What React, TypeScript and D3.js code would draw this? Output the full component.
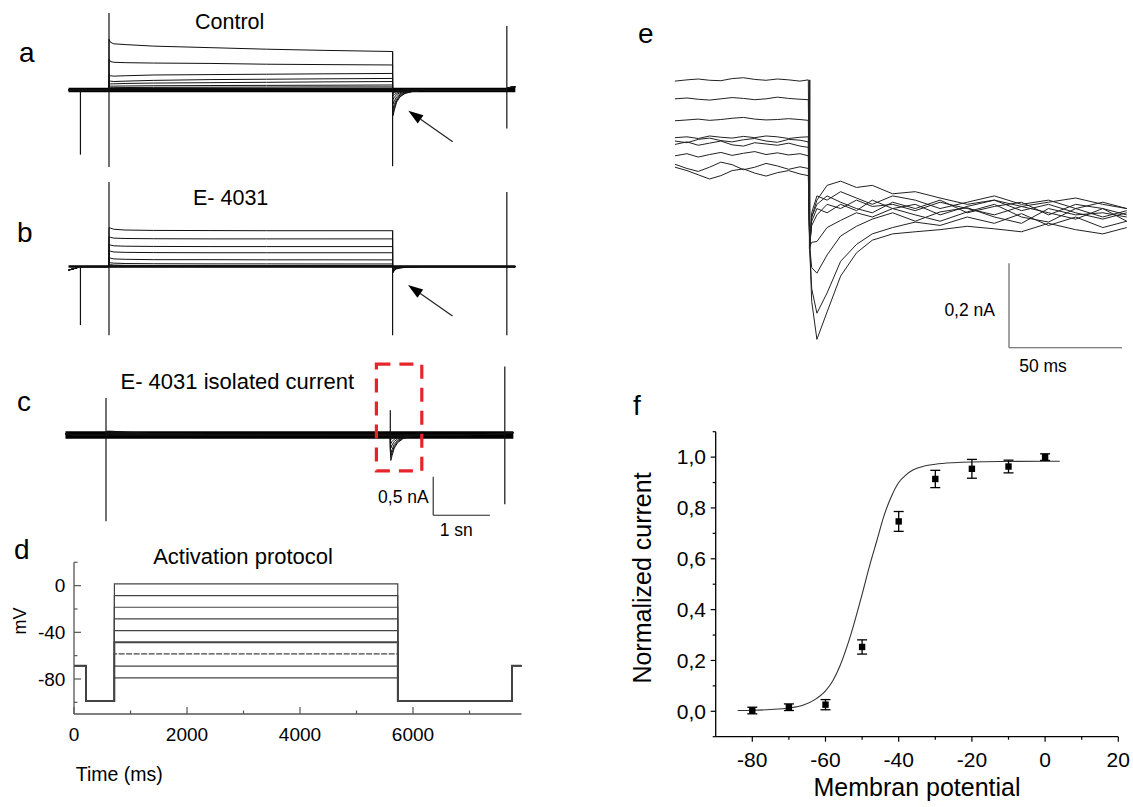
import React from "react";
import * as d3 from "d3";

// ---------------- Panels a–c : current sweeps (nA vs ms) ----------------
const stepPotentials = [0, -10, -20, -30, -40, -50, -60, -70, -80];

const preTimes = [0, 105, 210, 715];
const stepTimes = [715, 740, 800, 1000, 1500, 2500, 3500, 4500, 5730];
const tailTimes = [5730, 5740, 5760, 5800, 5860, 5950, 6080, 6250, 6500];
const postTimes = [7740, 7760, 7900];

const controlPre = [0, 0, 0, 0];
const controlStep = [
  [0.66, 0.62, 0.6, 0.59, 0.57, 0.55, 0.53, 0.515, 0.5],
  [0.4, 0.37, 0.36, 0.355, 0.35, 0.345, 0.335, 0.33, 0.325],
  [0.2, 0.185, 0.18, 0.185, 0.195, 0.2, 0.205, 0.21, 0.215],
  [0.13, 0.115, 0.11, 0.115, 0.125, 0.135, 0.14, 0.145, 0.15],
  [0.09, 0.08, 0.08, 0.085, 0.09, 0.095, 0.1, 0.105, 0.11],
  [0.06, 0.05, 0.05, 0.052, 0.055, 0.058, 0.06, 0.062, 0.065],
  [0.04, 0.03, 0.03, 0.032, 0.034, 0.036, 0.038, 0.04, 0.04],
  [0.02, 0.015, 0.015, 0.016, 0.017, 0.018, 0.019, 0.02, 0.02],
  [0.005, 0, 0, 0, 0, 0, 0, 0, 0],
];
const controlTail = [
  [-0.25, -0.33, -0.26, -0.16, -0.09, -0.045, -0.02, -0.005, 0],
  [-0.22, -0.29, -0.23, -0.14, -0.08, -0.04, -0.018, -0.005, 0],
  [-0.18, -0.24, -0.19, -0.12, -0.065, -0.032, -0.014, -0.004, 0],
  [-0.13, -0.18, -0.14, -0.09, -0.05, -0.025, -0.01, 0, 0],
  [-0.09, -0.12, -0.095, -0.06, -0.035, -0.018, -0.008, 0, 0],
  [-0.05, -0.075, -0.06, -0.04, -0.022, -0.01, 0, 0, 0],
  [-0.03, -0.045, -0.035, -0.022, -0.012, -0.005, 0, 0, 0],
  [-0.02, -0.03, -0.022, -0.014, -0.006, 0, 0, 0, 0],
  [-0.01, -0.02, -0.014, -0.008, -0.003, 0, 0, 0, 0],
];
const controlPost = [0, 0.03, 0.04];
const controlArtifacts = [
  [210, -0.84, 0],
  [715, -1.0, 1.0],
  [5730, -0.99, 0.5],
  [7750, -0.5, 0.83],
];

const e4031Pre = [-0.045, -0.025, 0, 0];
const e4031Step = [
  [0.505, 0.5, 0.485, 0.475, 0.47, 0.468, 0.466, 0.466, 0.466],
  [0.39, 0.38, 0.37, 0.365, 0.362, 0.36, 0.36, 0.36, 0.36],
  [0.29, 0.28, 0.27, 0.265, 0.262, 0.26, 0.26, 0.26, 0.26],
  [0.21, 0.2, 0.19, 0.185, 0.182, 0.18, 0.18, 0.18, 0.18],
  [0.12, 0.11, 0.1, 0.095, 0.09, 0.09, 0.088, 0.088, 0.087],
  [0.06, 0.05, 0.045, 0.04, 0.037, 0.035, 0.035, 0.034, 0.034],
  [0.03, 0.025, 0.02, 0.016, 0.014, 0.013, 0.013, 0.013, 0.013],
  [0.015, 0.01, 0.008, 0.006, 0.005, 0.005, 0.005, 0.005, 0.005],
  [0.005, 0, 0, 0, 0, 0, 0, 0, 0],
];
const e4031Tail = [
  [-0.06, -0.08, -0.05, -0.03, -0.02, -0.01, -0.005, 0, 0],
  [-0.05, -0.07, -0.045, -0.025, -0.015, -0.008, 0, 0, 0],
  [-0.04, -0.06, -0.04, -0.02, -0.01, -0.005, 0, 0, 0],
  [-0.03, -0.05, -0.03, -0.015, -0.008, 0, 0, 0, 0],
  [-0.02, -0.04, -0.025, -0.01, -0.005, 0, 0, 0, 0],
  [-0.02, -0.03, -0.02, -0.01, 0, 0, 0, 0, 0],
  [-0.01, -0.02, -0.01, -0.005, 0, 0, 0, 0, 0],
  [-0.01, -0.01, -0.005, 0, 0, 0, 0, 0, 0],
  [0, -0.01, 0, 0, 0, 0, 0, 0, 0],
];
const e4031Post = [0, 0, 0];
const e4031Artifacts = [
  [210, -0.76, 0],
  [715, -0.89, 1.1],
  [5730, -0.89, 0.47],
  [7750, -0.89, 0.97],
];

const isolatedPre = [0.015, 0.005, 0, 0];
const isolatedStep = [
  [0.04, 0.05, 0.05, 0.04, 0.02, 0.01, 0.01, 0.01, 0.01],
  [0.03, 0.045, 0.045, 0.035, 0.02, 0.01, 0.005, 0.005, 0.005],
  [0.02, 0.035, 0.035, 0.025, 0.012, 0.005, 0, 0, 0],
  [0.015, 0.025, 0.025, 0.015, 0.008, 0, 0, 0, 0],
  [0.01, 0.015, 0.015, 0.01, 0.005, 0, 0, 0, 0],
  [0.005, 0.01, 0.01, 0.005, 0, 0, 0, 0, 0],
  [0, 0.005, 0.005, 0, 0, 0, 0, 0, 0],
  [0, 0, 0, 0, 0, 0, 0, 0, 0],
  [0, 0, 0, 0, 0, 0, 0, 0, 0],
];
const isolatedTail = [
  [-0.2, -0.33, -0.27, -0.17, -0.1, -0.05, -0.02, -0.005, 0],
  [-0.18, -0.28, -0.23, -0.15, -0.085, -0.042, -0.018, -0.004, 0],
  [-0.15, -0.24, -0.19, -0.12, -0.07, -0.035, -0.014, 0, 0],
  [-0.1, -0.17, -0.13, -0.085, -0.05, -0.025, -0.01, 0, 0],
  [-0.06, -0.11, -0.085, -0.055, -0.032, -0.015, -0.005, 0, 0],
  [-0.03, -0.06, -0.045, -0.03, -0.016, -0.008, 0, 0, 0],
  [-0.02, -0.03, -0.022, -0.013, -0.007, 0, 0, 0, 0],
  [-0.01, -0.015, -0.01, -0.005, 0, 0, 0, 0, 0],
  [0, -0.01, -0.005, 0, 0, 0, 0, 0, 0],
];
const isolatedPost = [0.01, 0.025, 0.03];
const isolatedArtifacts = [
  [715, -1.12, 0.48],
  [5730, 0, 0.32],
  [7750, -0.9, 0.89],
];

// ---------------- Panel d : activation protocol ----------------
const protocolTimes = [0, 212, 715, 5730, 7750, 7920];
const holdingPotential = -68.5;
const prepulsePotential = -99;
const protocolLevels = [1.5, -8.5, -18.5, -28.5, -38.5, -48.5, -58.5, -69, -79];
const dMajorX = [0, 2000, 4000, 6000];
const dMinorX = [1000, 3000, 5000, 7000];
const dMajorY = [0, -40, -80];
const dMinorY = [20, -20, -60, -100];

// ---------------- Panel e : tail currents (nA vs ms) ----------------
const eTimesPre = [-59.3, -54, -49, -44, -39, -34, -29, -24, -19, -14, -9, -4, -0.3];
const eTimesPost = [0.3, 1.2, 3.5, 8, 14, 21, 28, 37, 47, 58, 70, 82, 94, 106, 118, 130, 140.6];
const ePre = [
  [0.322, 0.325, 0.327, 0.324, 0.323, 0.328, 0.33, 0.326, 0.324, 0.327, 0.325, 0.322, 0.325],
  [0.28, 0.282, 0.279, 0.277, 0.28, 0.283, 0.281, 0.278, 0.28, 0.284, 0.281, 0.279, 0.278],
  [0.228, 0.23, 0.232, 0.229, 0.231, 0.234, 0.236, 0.232, 0.23, 0.231, 0.233, 0.231, 0.229],
  [0.188, 0.19, 0.186, 0.192, 0.189, 0.187, 0.191, 0.188, 0.192, 0.19, 0.186, 0.189, 0.19],
  [0.18, 0.176, 0.184, 0.187, 0.181, 0.178, 0.183, 0.186, 0.18, 0.177, 0.184, 0.182, 0.178],
  [0.172, 0.178, 0.17, 0.175, 0.18, 0.171, 0.168, 0.176, 0.173, 0.17, 0.175, 0.168, 0.165],
  [0.145, 0.15, 0.142, 0.148, 0.153, 0.146, 0.151, 0.155, 0.148, 0.152, 0.147, 0.15, 0.145],
  [0.125, 0.115, 0.108, 0.118, 0.13, 0.124, 0.112, 0.118, 0.127, 0.121, 0.113, 0.119, 0.115],
  [0.118, 0.11, 0.1, 0.09, 0.098, 0.11, 0.114, 0.104, 0.097, 0.105, 0.11, 0.102, 0.098],
];
const ePost = [
  [-0.07, -0.2, -0.29, -0.225, -0.14, -0.085, -0.055, -0.04, -0.035, -0.03, -0.022, -0.028, -0.035, -0.015, -0.03, -0.04, -0.025],
  [-0.07, -0.17, -0.228, -0.18, -0.105, -0.065, -0.04, -0.025, -0.012, -0.02, 0.0, -0.015, 0.008, -0.02, 0.0, -0.025, -0.01],
  [-0.07, -0.12, -0.133, -0.09, -0.045, -0.022, -0.005, 0.01, -0.01, 0.012, 0.022, 0.0, -0.015, 0.02, 0.005, 0.01, 0.0],
  [-0.07, -0.06, -0.058, -0.025, -0.008, 0.01, 0.0, 0.02, 0.005, -0.01, 0.012, 0.03, 0.0, -0.012, 0.02, 0.0, 0.015],
  [-0.07, -0.02, 0.005, 0.03, 0.02, 0.04, 0.025, 0.03, 0.015, 0.035, 0.02, 0.005, 0.025, 0.01, -0.005, 0.02, 0.005],
  [-0.07, -0.01, 0.02, 0.01, 0.03, 0.015, 0.04, 0.02, 0.03, 0.005, 0.025, 0.04, 0.015, 0.03, 0.01, -0.005, 0.01],
  [-0.07, 0.0, 0.03, 0.05, 0.035, 0.02, 0.01, 0.035, 0.02, 0.04, 0.01, 0.025, 0.035, 0.005, 0.03, 0.02, -0.01],
  [-0.07, 0.01, 0.05, 0.04, 0.06, 0.045, 0.03, 0.05, 0.04, 0.02, 0.035, 0.05, 0.03, 0.04, 0.02, 0.035, 0.02],
  [-0.07, 0.0, 0.04, 0.075, 0.085, 0.07, 0.075, 0.055, 0.06, 0.045, 0.03, 0.04, 0.025, 0.035, 0.045, 0.03, 0.02],
];
const eArtifact = [0.3, -0.075, 0.325];

// ---------------- Panel f : activation curve ----------------
const fVoltage = [-80, -70, -60, -50, -40, -30, -20, -10, 0];
const fCurrent = [0.003, 0.016, 0.026, 0.253, 0.747, 0.914, 0.954, 0.963, 1.0];
const fError = [0.013, 0.013, 0.02, 0.028, 0.039, 0.034, 0.037, 0.025, 0.013];
const fitVoltage = [-84, -80, -75, -70, -66, -63, -60, -58, -56, -54, -52, -50, -48, -46, -44, -42, -40, -38, -36, -33, -30, -25, -20, -10, 0, 4];
const fitCurrent = [0.003, 0.004, 0.007, 0.013, 0.025, 0.045, 0.08, 0.12, 0.18, 0.26, 0.355, 0.46, 0.57, 0.67, 0.77, 0.845, 0.9, 0.93, 0.95, 0.965, 0.972, 0.978, 0.981, 0.983, 0.984, 0.984];
const fMajorX = [-80, -60, -40, -20, 0, 20];
const fMinorX = [-70, -50, -30, -10, 10];
const fMajorY = [0, 0.2, 0.4, 0.6, 0.8, 1.0];
const fMinorY = [-0.1, 0.1, 0.3, 0.5, 0.7, 0.9, 1.1];

const FONT = "'Liberation Sans', Arial, Helvetica, sans-serif";

type Pt = [number, number];

function SweepPanel(props: {
  x: d3.ScaleLinear<number, number>;
  y: d3.ScaleLinear<number, number>;
  pre: number[];
  step: number[][];
  tail: number[][];
  post: number[];
  artifacts: number[][];
  band: number;
}) {
  const { x, y, pre, step, tail, post, artifacts, band } = props;
  const line = d3
    .line<Pt>()
    .x((d) => x(d[0]))
    .y((d) => y(d[1]));
  const paths = stepPotentials.map((_, i) => {
    const pts: Pt[] = [];
    preTimes.forEach((t, k) => pts.push([t, pre[k]]));
    stepTimes.forEach((t, k) => pts.push([t, step[i][k]]));
    tailTimes.forEach((t, k) => pts.push([t, tail[i][k]]));
    postTimes.forEach((t, k) => pts.push([t, post[k]]));
    return line(pts) as string;
  });
  return (
    <g>
      <line x1={x(0)} x2={x(7900)} y1={y(0)} y2={y(0)} stroke="#000" strokeWidth={band} />
      {paths.map((p, i) => (
        <path key={i} d={p} fill="none" stroke="#111" strokeWidth={1} />
      ))}
      {artifacts.map((a, i) => (
        <line key={"a" + i} x1={x(a[0])} x2={x(a[0])} y1={y(a[1])} y2={y(a[2])} stroke="#111" strokeWidth={1.2} />
      ))}
    </g>
  );
}

function Arrow({ x1, y1, x2, y2 }: { x1: number; y1: number; x2: number; y2: number }) {
  const ang = Math.atan2(y2 - y1, x2 - x1);
  const L = 15;
  const W = 5;
  const bx = x2 - L * Math.cos(ang);
  const by = y2 - L * Math.sin(ang);
  const px = -Math.sin(ang) * W;
  const py = Math.cos(ang) * W;
  return (
    <g>
      <line x1={x1} y1={y1} x2={bx} y2={by} stroke="#222" strokeWidth={1.2} />
      <polygon points={`${x2},${y2} ${bx + px},${by + py} ${bx - px},${by - py}`} fill="#000" />
    </g>
  );
}

export default function App() {
  // panel a/b/c scales
  const xAB = d3.scaleLinear().domain([715, 5730]).range([109, 392.6]);
  const xC = d3.scaleLinear().domain([715, 5730]).range([106, 390.3]);
  const yA = d3.scaleLinear().domain([0, 1]).range([90, 13]);
  const yB = d3.scaleLinear().domain([0, 1]).range([266.6, 189.6]);
  const yC = d3.scaleLinear().domain([0, 1]).range([435, 358]);

  // panel d
  const xD = d3.scaleLinear().domain([0, 7920]).range([74, 521.5]);
  const yD = d3.scaleLinear().domain([-110, 20]).range([714, 562.3]);
  const dLine = d3
    .line<Pt>()
    .x((d) => xD(d[0]))
    .y((d) => yD(d[1]));
  const protocolPaths = protocolLevels.map((L) => {
    const [t0, t1, t2, t3, t4, t5] = protocolTimes;
    const pts: Pt[] = [
      [t0, holdingPotential],
      [t1, holdingPotential],
      [t1, prepulsePotential],
      [t2, prepulsePotential],
      [t2, L],
      [t3, L],
      [t3, prepulsePotential],
      [t4, prepulsePotential],
      [t4, holdingPotential],
      [t5, holdingPotential],
    ];
    return dLine(pts) as string;
  });

  // panel e
  const xE = d3.scaleLinear().domain([0, 50]).range([809, 922]);
  const yE = d3.scaleLinear().domain([0, 0.2]).range([217, 132.6]);
  const eLine = d3
    .line<Pt>()
    .x((d) => xE(d[0]))
    .y((d) => yE(d[1]));
  const ePaths = ePre.map((row, i) => {
    const pts: Pt[] = [];
    eTimesPre.forEach((t, k) => pts.push([t, row[k]]));
    eTimesPost.forEach((t, k) => pts.push([t, ePost[i][k]]));
    return eLine(pts) as string;
  });

  // panel f
  const xF = d3.scaleLinear().domain([-90, 20]).range([715.7, 1118.3]);
  const yF = d3.scaleLinear().domain([-0.1, 1.1]).range([736.7, 431.7]);
  const fitLine = d3
    .line<number>()
    .x((_, i) => xF(fitVoltage[i]))
    .y((d) => yF(d))
    .curve(d3.curveMonotoneX);
  const fmt = (v: number) => d3.format(".1f")(v).replace(".", ",");

  const scaleC = { x: 433.2, y: 515.2 };
  const scaleE = { x: 1009, y: 347.7 };

  return (
    <svg
      width={1133}
      height={807}
      style={{ position: "absolute", left: 0, top: 0, background: "#fff" }}
      fontFamily={FONT}
    >
      <rect x={0} y={0} width={1133} height={807} fill="#fff" />

      {/* ---------- a ---------- */}
      <text x={19} y={62} fontSize={28}>a</text>
      <text x={195} y={28.5} fontSize={21.5}>Control</text>
      <SweepPanel x={xAB} y={yA} pre={controlPre} step={controlStep} tail={controlTail} post={controlPost} artifacts={controlArtifacts} band={4.5} />
      <Arrow x1={452.7} y1={141.7} x2={408.3} y2={110.7} />

      {/* ---------- b ---------- */}
      <text x={17} y={242} fontSize={28}>b</text>
      <text x={193} y={205.2} fontSize={21.5}>E- 4031</text>
      <SweepPanel x={xAB} y={yB} pre={e4031Pre} step={e4031Step} tail={e4031Tail} post={e4031Post} artifacts={e4031Artifacts} band={2.5} />
      <Arrow x1={452.5} y1={316} x2={408} y2={285} />

      {/* ---------- c ---------- */}
      <text x={17} y={410.5} fontSize={28}>c</text>
      <text x={120.5} y={388.7} fontSize={22}>E- 4031 isolated current</text>
      <SweepPanel x={xC} y={yC} pre={isolatedPre} step={isolatedStep} tail={isolatedTail} post={isolatedPost} artifacts={isolatedArtifacts} band={7.5} />
      <rect x={376.4} y={364.2} width={45.4} height={106.7} fill="none" stroke="#e8242b" strokeWidth={3.2} strokeDasharray="14 9" />
      <line x1={scaleC.x} x2={scaleC.x} y1={scaleC.y} y2={scaleC.y - (yC(0) - yC(0.5))} stroke="#222" strokeWidth={1.1} />
      <line x1={scaleC.x} x2={scaleC.x + (xC(1715) - xC(715))} y1={scaleC.y} y2={scaleC.y} stroke="#222" strokeWidth={1.1} />
      <text x={428.7} y={502.8} fontSize={17.5} textAnchor="end">0,5 nA</text>
      <text x={456.3} y={536.3} fontSize={17.5} textAnchor="middle">1 sn</text>

      {/* ---------- d ---------- */}
      <text x={14} y={558.5} fontSize={28}>d</text>
      <text x={153.2} y={563.6} fontSize={22}>Activation protocol</text>
      {protocolPaths.map((p, i) => (
        <path key={i} d={p} fill="none" stroke="#444" strokeWidth={i === 5 ? 1.8 : 1.2} strokeDasharray={i === 6 ? "6 1.5" : undefined} />
      ))}
      <line x1={xD(0)} x2={xD(0)} y1={yD(20)} y2={yD(-110)} stroke="#555" strokeWidth={1.3} />
      <line x1={xD(0)} x2={xD(7920)} y1={yD(-110)} y2={yD(-110)} stroke="#555" strokeWidth={1.3} />
      {dMajorY.map((v) => (
        <g key={"dy" + v}>
          <line x1={xD(0)} x2={xD(0) + 7} y1={yD(v)} y2={yD(v)} stroke="#555" strokeWidth={1.2} />
          <text x={65.4} y={yD(v)} dy="0.35em" fontSize={19} textAnchor="end">{v}</text>
        </g>
      ))}
      {dMinorY.map((v) => (
        <line key={"dmy" + v} x1={xD(0)} x2={xD(0) + 3.5} y1={yD(v)} y2={yD(v)} stroke="#555" strokeWidth={1.2} />
      ))}
      {dMajorX.map((v) => (
        <g key={"dx" + v}>
          <line x1={xD(v)} x2={xD(v)} y1={yD(-110)} y2={yD(-110) - 7} stroke="#555" strokeWidth={1.2} />
          <text x={xD(v)} y={741.4} fontSize={19} textAnchor="middle">{v}</text>
        </g>
      ))}
      {dMinorX.map((v) => (
        <line key={"dmx" + v} x1={xD(v)} x2={xD(v)} y1={yD(-110)} y2={yD(-110) - 3.5} stroke="#555" strokeWidth={1.2} />
      ))}
      <text transform="translate(25.5,621) rotate(-90)" fontSize={18} textAnchor="middle">mV</text>
      <text x={75.8} y={781} fontSize={19.5}>Time (ms)</text>

      {/* ---------- e ---------- */}
      <text x={638} y={43.3} fontSize={28}>e</text>
      {ePaths.map((p, i) => (
        <path key={i} d={p} fill="none" stroke="#222" strokeWidth={1} />
      ))}
      <line x1={xE(eArtifact[0])} x2={xE(eArtifact[0])} y1={yE(eArtifact[1])} y2={yE(eArtifact[2])} stroke="#222" strokeWidth={1.6} />
      <line x1={scaleE.x} x2={scaleE.x} y1={scaleE.y} y2={scaleE.y - (yE(0) - yE(0.2))} stroke="#555" strokeWidth={1.1} />
      <line x1={scaleE.x} x2={scaleE.x + (xE(50) - xE(0))} y1={scaleE.y} y2={scaleE.y} stroke="#555" strokeWidth={1.1} />
      <text x={995} y={316} fontSize={17.5} textAnchor="end">0,2 nA</text>
      <text x={1043} y={371.7} fontSize={17.5} textAnchor="middle">50 ms</text>

      {/* ---------- f ---------- */}
      <text x={633} y={415} fontSize={28}>f</text>
      <line x1={xF(-90)} x2={xF(-90)} y1={yF(1.1)} y2={yF(-0.1)} stroke="#000" strokeWidth={1.3} />
      <line x1={xF(-90)} x2={xF(20)} y1={yF(-0.1)} y2={yF(-0.1)} stroke="#000" strokeWidth={1.3} />
      {fMajorY.map((v) => (
        <g key={"fy" + v}>
          <line x1={xF(-90) - 5} x2={xF(-90)} y1={yF(v)} y2={yF(v)} stroke="#000" strokeWidth={1.2} />
          <text x={706} y={yF(v)} dy="0.35em" fontSize={21} textAnchor="end">{fmt(v)}</text>
        </g>
      ))}
      {fMinorY.map((v) => (
        <line key={"fmy" + v} x1={xF(-90) - 3} x2={xF(-90)} y1={yF(v)} y2={yF(v)} stroke="#000" strokeWidth={1.2} />
      ))}
      {fMajorX.map((v) => (
        <g key={"fx" + v}>
          <line x1={xF(v)} x2={xF(v)} y1={yF(-0.1)} y2={yF(-0.1) + 5} stroke="#000" strokeWidth={1.2} />
          <text x={xF(v)} y={767} fontSize={21} textAnchor="middle">{v}</text>
        </g>
      ))}
      {fMinorX.map((v) => (
        <line key={"fmx" + v} x1={xF(v)} x2={xF(v)} y1={yF(-0.1)} y2={yF(-0.1) + 3} stroke="#000" strokeWidth={1.2} />
      ))}
      <path d={fitLine(fitCurrent) as string} fill="none" stroke="#333" strokeWidth={1.1} />
      {fVoltage.map((v, i) => {
        const cx = xF(v);
        const top = yF(fCurrent[i] + fError[i]);
        const bot = yF(fCurrent[i] - fError[i]);
        return (
          <g key={"pt" + v}>
            <line x1={cx} x2={cx} y1={top} y2={bot} stroke="#000" strokeWidth={1.3} />
            <line x1={cx - 5} x2={cx + 5} y1={top} y2={top} stroke="#000" strokeWidth={1.3} />
            <line x1={cx - 5} x2={cx + 5} y1={bot} y2={bot} stroke="#000" strokeWidth={1.3} />
            <rect x={cx - 3.2} y={yF(fCurrent[i]) - 3.2} width={6.4} height={6.4} fill="#000" />
          </g>
        );
      })}
      <text transform="translate(651,578) rotate(-90)" fontSize={25} textAnchor="middle">Normalized current</text>
      <text x={917} y={796} fontSize={25} textAnchor="middle">Membran potential</text>
    </svg>
  );
}
